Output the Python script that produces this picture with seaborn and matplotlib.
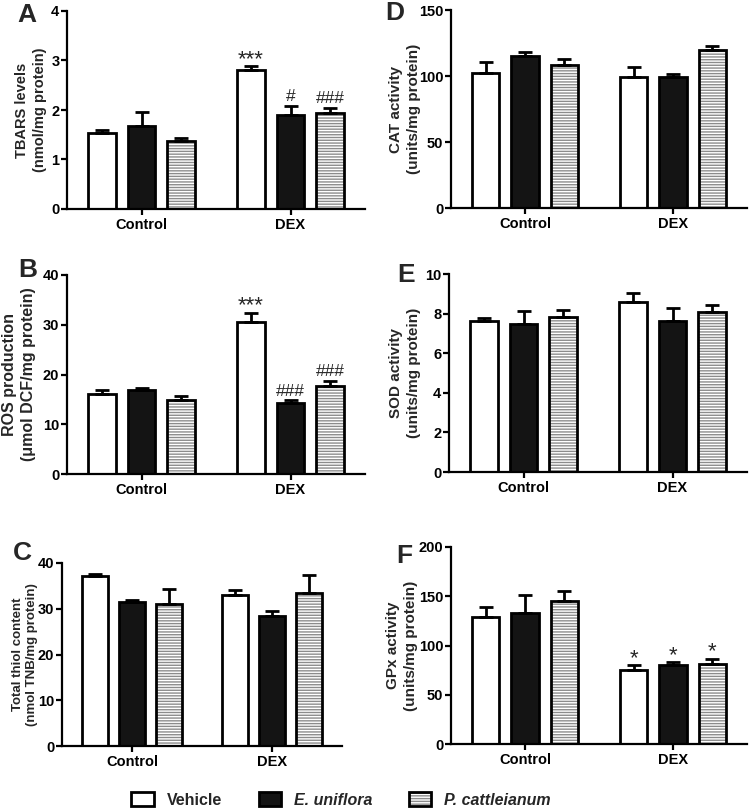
import numpy as np
import pandas as pd
import matplotlib
matplotlib.use("Agg")
import matplotlib.pyplot as plt
from matplotlib.patches import Patch, Rectangle
from matplotlib.legend_handler import HandlerTuple
import seaborn as sns

# ---------------- data ----------------
groups = ["Control", "DEX"]
treatments = ["Vehicle", "E. uniflora", "P. cattleianum"]

# order: Control-Vehicle, Control-E.uniflora, Control-P.cattleianum, DEX-Vehicle, DEX-E.uniflora, DEX-P.cattleianum
tbars_mean = [1.54, 1.68, 1.37, 2.81, 1.90, 1.93]
tbars_sem = [0.06, 0.28, 0.06, 0.07, 0.18, 0.11]
tbars_marks = ["", "", "", "***", "#", "###"]

ros_mean = [16.1, 16.8, 14.8, 30.6, 14.3, 17.7]
ros_sem = [0.7, 0.5, 0.8, 1.8, 0.5, 1.0]
ros_marks = ["", "", "", "***", "###", "###"]

thiol_mean = [37.2, 31.4, 31.0, 33.1, 28.4, 33.5]
thiol_sem = [0.3, 0.5, 3.3, 1.1, 1.1, 3.9]
thiol_marks = ["", "", "", "", "", ""]

cat_mean = [102.0, 115.0, 108.0, 99.0, 99.6, 119.5]
cat_sem = [8.3, 3.0, 5.0, 7.5, 2.0, 3.0]
cat_marks = ["", "", "", "", "", ""]

sod_mean = [7.65, 7.48, 7.85, 8.61, 7.65, 8.07]
sod_sem = [0.12, 0.63, 0.34, 0.41, 0.63, 0.36]
sod_marks = ["", "", "", "", "", ""]

gpx_mean = [128.5, 133.0, 145.0, 75.0, 80.0, 81.6]
gpx_sem = [10.8, 18.0, 10.0, 4.7, 3.0, 5.0]
gpx_marks = ["", "", "", "*", "*", "*"]

# ---------------- style ----------------
sns.set_style("ticks")
plt.rcParams["font.family"] = ["Liberation Sans", "DejaVu Sans"]
plt.rcParams["font.weight"] = "bold"
plt.rcParams["axes.labelweight"] = "bold"
plt.rcParams["hatch.linewidth"] = 1.0

W, H = 750, 811
fig = plt.figure(figsize=(W / 100, H / 100), dpi=100)

BLACK_FILL = "#141414"
STRIPE = "#8c8c8c"
palette = dict(zip(treatments, ["white", BLACK_FILL, "white"]))


def px_axes(left, top, right, bottom):
    return fig.add_axes([left / W, 1 - bottom / H, (right - left) / W, (bottom - top) / H])


panels = [
    # letter, box(px), mean, sem, marks, ylabel, ymax, step, label fs, label center px offset, letter pos
    ("A", (67, 11, 365, 209), tbars_mean, tbars_sem, tbars_marks,
     "TBARS levels\n(nmol/mg protein)", 4, 1, 10.5, -36, (17, 22)),
    ("B", (67, 275, 365, 474), ros_mean, ros_sem, ros_marks,
     "ROS production\n(\u03bcmol DCF/mg protein)", 40, 10, 11.5, -48, (18, 277)),
    ("C", (62, 563, 342, 746), thiol_mean, thiol_sem, thiol_marks,
     "Total thiol content\n(nmol TNB/mg protein)", 40, 10, 9.5, -37, (13, 560)),
    ("D", (451, 10, 747, 208), cat_mean, cat_sem, cat_marks,
     "CAT activity\n(units/mg protein)", 150, 50, 11, -46, (385, 20)),
    ("E", (449, 274, 747, 472), sod_mean, sod_sem, sod_marks,
     "SOD activity\n(units/mg protein)", 10, 2, 11, -44, (397, 282)),
    ("F", (451, 547, 747, 744), gpx_mean, gpx_sem, gpx_marks,
     "GPx activity\n(units/mg protein)", 200, 50, 11, -49, (396, 563)),
]

for letter, box, mean, sem, marks, ylabel, ymax, step, lfs, lx, lpos in panels:
    ax = px_axes(*box)
    df = pd.DataFrame({
        "group": np.repeat(groups, len(treatments)),
        "treatment": treatments * len(groups),
        "value": mean,
    })
    sns.barplot(data=df, x="group", y="value", hue="treatment", order=groups,
                hue_order=treatments, palette=palette, saturation=1,
                edgecolor="black", linewidth=2.0, width=0.8, gap=0.3,
                errorbar=None, legend=False, ax=ax, zorder=2)

    bar_containers = list(ax.containers)
    for i, cont in enumerate(bar_containers):
        for j, bar in enumerate(list(cont)):
            k = j * len(treatments) + i
            x = bar.get_x() + bar.get_width() / 2
            top = bar.get_height()
            if i == 2:
                bar.set_hatch("------")
                bar.set_edgecolor(STRIPE)
                bar.set_linewidth(0)
                ax.add_patch(Rectangle(bar.get_xy(), bar.get_width(), bar.get_height(),
                                       fill=False, edgecolor="black", linewidth=2.0,
                                       zorder=2.5))
            ax.errorbar([x], [top], yerr=[[0], [sem[k]]], fmt="none", ecolor="black",
                        elinewidth=2.0, capsize=5, capthick=2.0, zorder=3)
            if marks[k]:
                star = marks[k].startswith("*")
                ax.annotate(marks[k], xy=(x, top + sem[k]),
                            xytext=(0, 1.0 if star else 3.5), textcoords="offset points",
                            ha="center", va="baseline", fontweight="normal",
                            fontsize=16 if star else 12.5)

    ax.set_xlim(-0.5, 1.5)
    ax.set_ylim(0, ymax)
    ax.set_yticks(np.arange(0, ymax + step / 2, step))
    ax.set_xlabel("")
    ax.set_ylabel(ylabel, fontsize=lfs, fontweight="bold", va="center", linespacing=1.3)
    axw = (box[2] - box[0])
    ax.yaxis.set_label_coords(lx / axw, 0.5)
    for s in ["top", "right"]:
        ax.spines[s].set_visible(False)
    for s in ["left", "bottom"]:
        ax.spines[s].set_linewidth(1.6)
        ax.spines[s].set_color("black")
    ax.tick_params(axis="both", colors="black", width=1.6, length=4, labelsize=10.5)
    ax.tick_params(axis="y", pad=1.5)
    ax.tick_params(axis="x", pad=2.5)
    for t in ax.get_xticklabels() + ax.get_yticklabels():
        t.set_fontweight("bold")
    fig.text(lpos[0] / W, 1 - lpos[1] / H, letter, fontsize=19, fontweight="bold",
             ha="left", va="baseline")

# ---------------- legend ----------------
h_veh = Patch(facecolor="white", edgecolor="black", linewidth=2.0)
h_eu = Patch(facecolor=BLACK_FILL, edgecolor="black", linewidth=2.0)
h_pc = (Patch(facecolor="white", edgecolor=STRIPE, hatch="------", linewidth=0),
        Patch(fill=False, edgecolor="black", linewidth=2.0))
leg = fig.legend([h_veh, h_eu, h_pc], treatments, loc="center",
                 bbox_to_anchor=(341 / W, 1 - 800 / H), ncol=3, frameon=False,
                 fontsize=11.5, handlelength=1.4, handleheight=0.9,
                 handletextpad=0.8, columnspacing=2.3,
                 handler_map={tuple: HandlerTuple(ndivide=1, pad=0)})
for t in leg.get_texts():
    t.set_fontweight("bold")
for t in leg.get_texts()[1:]:
    t.set_fontstyle("italic")

fig.savefig("out.png", dpi=100)
